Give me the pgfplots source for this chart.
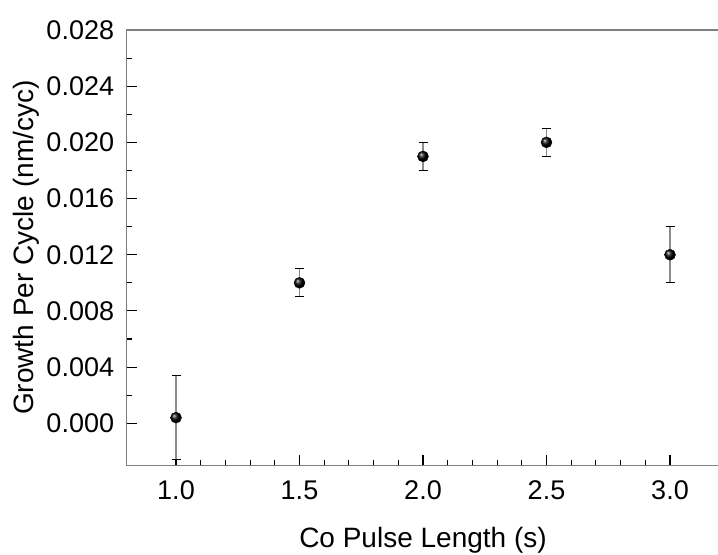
\documentclass[border=0pt]{standalone}
\usepackage{pgfplots}
\pgfplotsset{compat=1.18}
\usepackage{fontspec}
\setmainfont{Liberation Sans}
\begin{document}
\begin{tikzpicture}
\begin{axis}[
  scale only axis,
  width=592.8pt, height=435.4pt,
  xmin=0.8, xmax=3.2, ymin=-0.003, ymax=0.028,
  xtick={1.0,1.5,2.0,2.5,3.0},
  ytick={0,0.004,0.008,0.012,0.016,0.020,0.024,0.028},
  minor x tick num=4, minor y tick num=1,
  xtick pos=bottom, ytick pos=left,
  tick align=inside,
  major tick length=10pt, minor tick length=5pt,
  every tick/.style={black, line width=1.1pt},
  axis line style={black!50, line width=1.5pt},
  /pgf/number format/assume math mode=true,
  xticklabel style={/pgf/number format/.cd, fixed, fixed zerofill, precision=1, /tikz/.cd, yshift=-12pt},
  yticklabel style={/pgf/number format/.cd, fixed, fixed zerofill, precision=3, /tikz/.cd, xshift=-9pt},
  scaled y ticks=false,
  tick label style={font=\fontsize{27}{31}\selectfont},
  label style={font=\fontsize{28}{32}\selectfont},
  xlabel={Co Pulse Length (s)},
  ylabel={Growth Per Cycle (nm/cyc)},
  xlabel style={at={(axis description cs:0.5,0)}, anchor=base, yshift=-81.6pt},
  ylabel style={at={(axis description cs:-0.157,0.5)}, anchor=base},
  clip=false,
]
\addplot[only marks, mark=ball, mark size=5.5pt, mark options={ball color=black},
  error bars/.cd, y dir=both, y explicit,
  error bar style={line width=1.2pt, black!45},
  error mark options={rotate=90, mark size=4.5pt, line width=1.2pt, black}]
  table[x=x, y=y, y error=e] {
x y e
1.0 0.0004 0.0030
1.5 0.0100 0.0010
2.0 0.0190 0.0010
2.5 0.0200 0.0010
3.0 0.0120 0.0020
};
\end{axis}
\pgfresetboundingbox
\path ([shift={(-126.6pt,-88.6pt)}]current axis.south west) rectangle ([shift={(-1.4pt,30pt)}]current axis.north east);
\end{tikzpicture}
\end{document}
